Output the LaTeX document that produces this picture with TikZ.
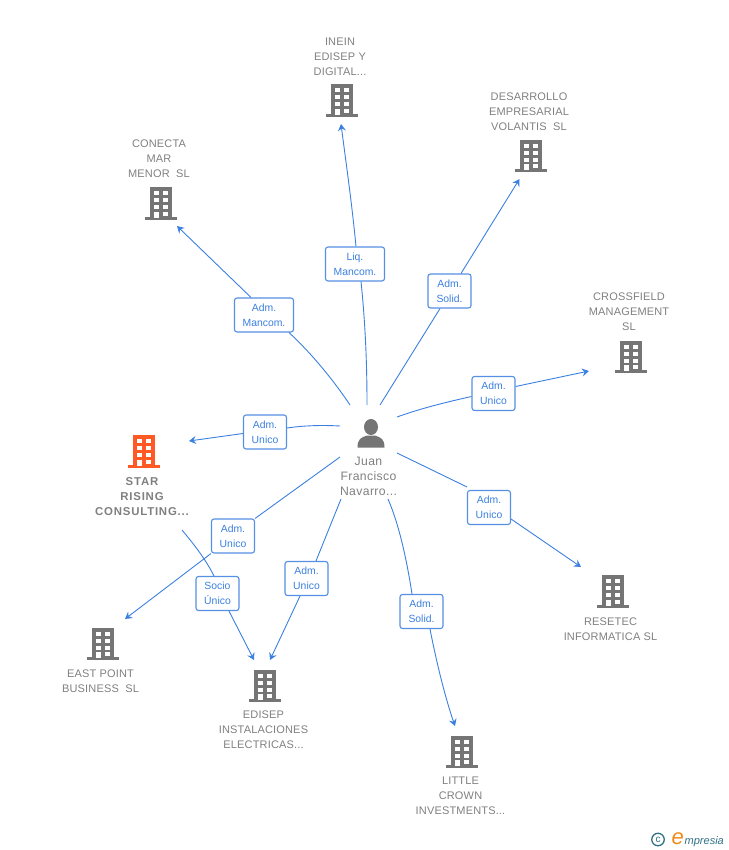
\documentclass[tikz,border=0pt]{standalone}
\usepackage{fontspec}
\setmainfont{Liberation Sans}
\usetikzlibrary{arrows.meta}
\definecolor{linkblue}{HTML}{3B80E0}
\definecolor{boxblue}{HTML}{5590E4}
\definecolor{labelgrey}{HTML}{808080}
\definecolor{icongrey}{HTML}{757575}
\definecolor{starorange}{HTML}{FF5A26}
\definecolor{logoteal}{HTML}{2F7185}
\definecolor{logoorange}{HTML}{F08A1D}
\tikzset{
  x=1pt,y=-1pt,
  rolebox/.style={draw=boxblue,line width=1.1pt,fill=white,rounded corners=2.5pt,minimum width=43pt,minimum height=34pt,inner sep=0pt,align=center,text=linkblue,font=\fontsize{10.4}{15}\selectfont,text depth=-2pt},
  link/.style={draw=linkblue,line width=0.9pt},
  linkend/.style={link,-{Stealth[length=7pt,width=8pt,inset=2.5pt]}},
  lbl/.style={text=labelgrey,align=center,inner sep=0pt,font=\fontsize{11}{15}\selectfont\addfontfeatures{LetterSpace=1.5}},
  starlbl/.style={lbl,font=\fontsize{11.4}{15}\selectfont\bfseries\addfontfeatures{LetterSpace=7}},
  pics/building/.style={code={
    \fill[#1] (-11,-16.5) rectangle (11,13);
    \fill[#1] (-16,13) rectangle (16,16);
    \foreach \yy in {-12.5,-5.5,1.5}{
      \fill[white] (-7,\yy) rectangle (-2,\yy+4);
      \fill[white] (2,\yy) rectangle (7,\yy+4);
    }
    \fill[white] (-7,8) rectangle (-2,14);
    \fill[white] (2,8) rectangle (7,12);
  }}
}
\begin{document}
\begin{tikzpicture}
\useasboundingbox (0,0) rectangle (728,850);
% buildings
\pic at (342,101) {building=icongrey};
\pic at (531,156.5) {building=icongrey};
\pic at (160.5,204) {building=icongrey};
\pic at (630.5,357) {building=icongrey};
\pic at (144,451.5) {building=starorange};
\pic at (102.5,644) {building=icongrey};
\pic at (265,686) {building=icongrey};
\pic at (461.5,752) {building=icongrey};
\pic at (612.5,591.5) {building=icongrey};
% labels
\node[lbl] (tinein) at (340,57) {INEIN\\EDISEP Y\\DIGITAL...};
\node[lbl] (tdes) at (529,112) {DESARROLLO\\EMPRESARIAL\\VOLANTIS\ \ SL};
\node[lbl] (tcon) at (159,158.5) {CONECTA\\MAR\\MENOR\ \ SL};
\node[lbl] (tcro) at (629,311.5) {CROSSFIELD\\MANAGEMENT\\SL};
\node[starlbl] (tsta) at (142,496.5) {STAR\\RISING\\CONSULTING...};
\node[lbl] (teas) at (100.5,681) {EAST POINT\\BUSINESS\ \ SL};
\node[lbl] (tedi) at (263.5,730) {EDISEP\\INSTALACIONES\\ELECTRICAS...};
\node[lbl] (tlit) at (460.5,796) {LITTLE\\CROWN\\INVESTMENTS...};
\node[lbl] (tres) at (610.5,629) {RESETEC\\INFORMATICA SL};
\node[lbl,font=\fontsize{12.2}{15}\selectfont\addfontfeatures{LetterSpace=3}] (tjuan) at (368.5,476) {Juan\\Francisco\\Navarro...};
% person
\fill[icongrey] (371,427) ellipse (7 and 8);
\fill[icongrey] (357.5,447.5) .. controls (357.5,439) and (361,437.5) .. (367,435.5) -- (375,435.5) .. controls (381,437.5) and (384.5,439) .. (384.5,447.5) -- cycle;
% free ends
\coordinate (s1) at (367,405); \coordinate (e1) at (341,124);
\coordinate (s2) at (380,405); \coordinate (e2) at (519.5,179);
\coordinate (s3) at (350,405); \coordinate (e3) at (177,226);
\coordinate (s4) at (397,417); \coordinate (e4) at (589,371);
\coordinate (s5) at (340,426); \coordinate (e5) at (189,441);
\coordinate (s6) at (340,457); \coordinate (e6) at (125,619);
\coordinate (s7) at (341,499); \coordinate (e7) at (270,660);
\coordinate (s8) at (388,499); \coordinate (e8) at (455,726);
\coordinate (s9) at (397,453); \coordinate (e9) at (581,567);
\coordinate (s10) at (182,530); \coordinate (e10) at (254,660);
% boxes
\node[rolebox,minimum width=59pt] (b1) at (355,264) {Liq.\\Mancom.};
\node[rolebox] (b2) at (449.5,291) {Adm.\\Solid.};
\node[rolebox,minimum width=59pt] (b3) at (264,315) {Adm.\\Mancom.};
\node[rolebox] (b4) at (493.5,393.5) {Adm.\\Unico};
\node[rolebox] (b5) at (265,432) {Adm.\\Unico};
\node[rolebox] (b6) at (233,536) {Adm.\\Unico};
\node[rolebox] (b7) at (306.5,578.5) {Adm.\\Unico};
\node[rolebox] (b8) at (421.5,611.5) {Adm.\\Solid.};
\node[rolebox] (b9) at (489,507.5) {Adm.\\Unico};
\node[rolebox] (b10) at (217.5,593.5) {Socio\\Único};
% connectors
\draw[link] (s1) .. controls (367,360) and (365,320) .. (b1.south-|361,0);
\draw[linkend] (b1.north-|356,0) .. controls (352,205) and (347,170) .. (e1);
\draw[link] (s2) -- (b2.south-|440,0);
\draw[linkend] (b2.north-|461,0) -- (e2);
\draw[link] (s3) .. controls (332,378) and (310,352) .. (b3.south-|289,0);
\draw[linkend] (b3.north-|251,0) -- (e3);
\draw[link] (s4) .. controls (422,408) and (447,402) .. ([yshift=-3pt]b4.west);
\draw[linkend] ([yshift=7pt]b4.east) -- (e4);
\draw[link] (s5) .. controls (322,425) and (304,425.5) .. ([yshift=4pt]b5.east);
\draw[linkend] ([yshift=-1.5pt]b5.west) -- (e5);
\draw[link] (s6) -- (b6.north east);
\draw[linkend] (b6.south west) -- (e6);
\draw[link] (s7) -- (b7.north-|316,0);
\draw[linkend] (b7.south-|300,0) -- (e7);
\draw[link] (s8) .. controls (398,522) and (406,555) .. (b8.north-|412,0);
\draw[linkend] (b8.south-|430,0) .. controls (437,665) and (446,700) .. (e8);
\draw[link] (s9) -- ([yshift=3pt]b9.north west);
\draw[linkend] ([yshift=-11.5pt]b9.east) -- (e9);
\draw[link] (s10) .. controls (192,542) and (205,558) .. (b10.north-|214,0);
\draw[linkend] (b10.south-|229,0) -- (e10);
% logo
\node[circle,draw=logoteal,line width=1.3pt,minimum size=12.5pt,inner sep=0pt,text=logoteal,font=\fontsize{10}{10}\selectfont] (copy) at (658,839.5) {c};
\node[inner sep=0pt,anchor=base west,text=logoorange,font=\fontsize{22}{22}\selectfont\itshape] (loge) at (671.5,844) {e};
\node[inner sep=0pt,anchor=base west,text=logoteal,font=\fontsize{11}{12}\selectfont\itshape] (logt) at (684.5,844.5) {mpresia};
\end{tikzpicture}
\end{document}
